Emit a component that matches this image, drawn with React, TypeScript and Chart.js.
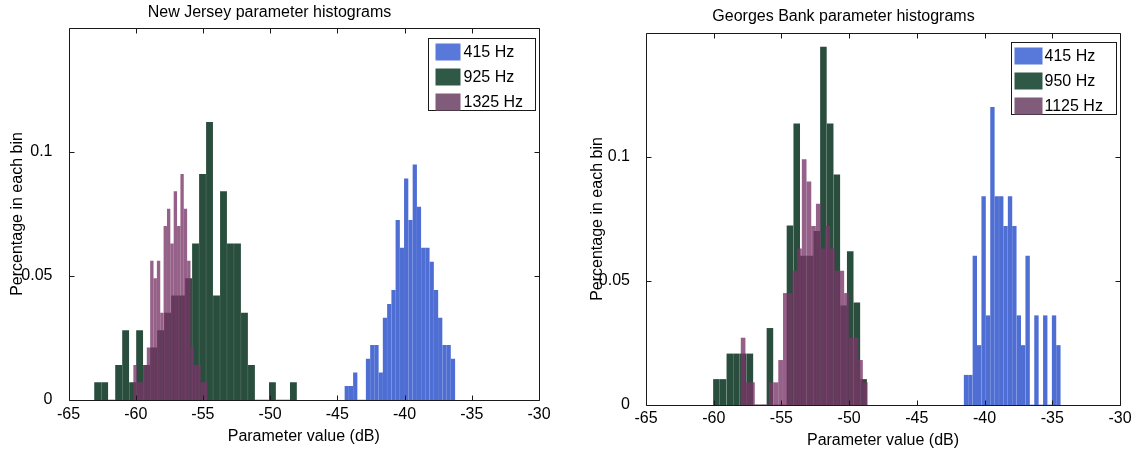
import React, { useEffect, useRef } from "react";
import { Chart, registerables } from "chart.js";

Chart.register(...registerables);

// ---------- shared axis data ----------
const X_TICKS = [-65, -60, -55, -50, -45, -40, -35, -30];
const Y_TICKS = [0, 0.05, 0.1];
const Y_TICK_LABELS = ["0", "0.05", "0.1"];
const X_MIN = -65;
const X_MAX = -30;
const Y_MAX = 0.15;

// ---------- New Jersey ----------
const NJ_TITLE = "New Jersey parameter histograms";
const NJ_LABELS = ["415 Hz", "925 Hz", "1325 Hz"];

const NJ_415_X = [-44.3, -43.98, -43.67, -43.35, -43.04, -42.72, -42.4, -42.09, -41.77, -41.46, -41.14, -40.82, -40.51, -40.19, -39.88, -39.56, -39.24, -38.93, -38.61, -38.3, -37.98, -37.66, -37.35, -37.03, -36.72, -36.4];
const NJ_415_Y = [0.0055, 0.0055, 0.011, 0, 0, 0.0165, 0.022, 0.022, 0.011, 0.033, 0.0386, 0.0442, 0.0724, 0.0613, 0.0892, 0.0724, 0.0948, 0.0778, 0.0613, 0.0613, 0.0556, 0.0442, 0.033, 0.022, 0.022, 0.0165];

const NJ_925_X = [-62.83, -62.31, -61.79, -61.27, -60.75, -60.23, -59.71, -59.19, -58.67, -58.15, -57.63, -57.11, -56.59, -56.07, -55.55, -55.03, -54.51, -53.99, -53.47, -52.95, -52.43, -51.91, -51.39, -50.87, -50.35, -49.83, -49.31, -48.79, -48.27];
const NJ_925_Y = [0.007, 0.007, 0, 0.014, 0.028, 0.007, 0.028, 0.014, 0.021, 0.028, 0.035, 0.042, 0.042, 0.049, 0.063, 0.091, 0.112, 0.042, 0.084, 0.063, 0.063, 0.035, 0.014, 0, 0, 0.007, 0, 0, 0.007];

const NJ_1325_X = [-60.05, -59.8, -59.55, -59.3, -59.05, -58.8, -58.55, -58.3, -58.05, -57.8, -57.55, -57.3, -57.05, -56.8, -56.55, -56.3, -56.05, -55.8, -55.55, -55.3, -55.05, -54.8];
const NJ_1325_Y = [0.014, 0.007, 0.007, 0.014, 0.021, 0.056, 0.049, 0.056, 0.035, 0.07, 0.077, 0.063, 0.084, 0.07, 0.091, 0.077, 0.056, 0.021, 0.014, 0.014, 0.007, 0.007];

// ---------- Georges Bank ----------
const GB_TITLE = "Georges Bank parameter histograms";
const GB_LABELS = ["415 Hz", "950 Hz", "1125 Hz"];

const GB_415_X = [-41.37, -41.05, -40.72, -40.4, -40.07, -39.75, -39.42, -39.1, -38.77, -38.45, -38.12, -37.8, -37.47, -37.15, -36.82, -36.5, -36.17, -35.85, -35.52, -35.2, -34.87, -34.55];
const GB_415_Y = [0.012, 0.012, 0.06, 0.024, 0.084, 0.036, 0.12, 0.084, 0.084, 0.072, 0.084, 0.072, 0.036, 0.024, 0.06, 0, 0.036, 0, 0.036, 0, 0.036, 0.024];

const GB_950_X = [-59.8, -59.31, -58.81, -58.32, -57.82, -57.33, -56.84, -56.34, -55.85, -55.35, -54.86, -54.37, -53.87, -53.38, -52.88, -52.39, -51.9, -51.4, -50.91, -50.41, -49.92, -49.43, -48.93];
const GB_950_Y = [0.0103, 0.0103, 0.0206, 0.0206, 0.0206, 0.0206, 0, 0, 0.0309, 0, 0, 0.0722, 0.1134, 0.06, 0.06, 0.07, 0.1443, 0.1134, 0.0928, 0.04, 0.0619, 0.0412, 0.0103];

const GB_1125_X = [-57.83, -57.48, -57.14, -56.79, -56.44, -56.1, -55.75, -55.4, -55.06, -54.71, -54.36, -54.01, -53.67, -53.32, -52.97, -52.63, -52.28, -51.93, -51.58, -51.24, -50.89, -50.54, -50.2, -49.85, -49.5, -49.16, -48.81];
const GB_1125_Y = [0.027, 0.009, 0.009, 0, 0, 0, 0.009, 0.009, 0.018, 0.045, 0.045, 0.054, 0.063, 0.099, 0.09, 0.072, 0.081, 0.063, 0.072, 0.063, 0.054, 0.054, 0.045, 0.027, 0.027, 0.018, 0.009];

// ---------- styles ----------
const FONT_FAMILY = '"Liberation Sans", Arial, Helvetica, sans-serif';
const BLUE = "rgb(78,110,212)";
const GREEN = "rgb(42,78,62)";
const MAGENTA = "rgba(120,52,104,0.78)";
const LEGEND_COLORS = ["rgb(88,120,218)", "rgb(48,88,70)", "rgb(128,92,122)"];

const toPoints = (xs: number[], ys: number[]) => xs.map((x, i) => ({ x, y: ys[i] }));

const matlabAxes = {
  id: "matlabAxes",
  afterDatasetsDraw(chart: any) {
    const { ctx, chartArea: a, scales } = chart;
    ctx.save();
    ctx.strokeStyle = "#1a1a1a";
    ctx.lineWidth = 1;
    const L = Math.round(a.left) + 0.5;
    const R = Math.round(a.right) + 0.5;
    const T = Math.round(a.top) + 0.5;
    const B = Math.round(a.bottom) + 0.5;
    ctx.beginPath();
    ctx.rect(L, T, R - L, B - T);
    const tl = 5;
    X_TICKS.forEach((v) => {
      const x = Math.round(scales.x.getPixelForValue(v)) + 0.5;
      ctx.moveTo(x, B);
      ctx.lineTo(x, B - tl);
      ctx.moveTo(x, T);
      ctx.lineTo(x, T + tl);
    });
    Y_TICKS.forEach((v) => {
      const y = Math.round(scales.y.getPixelForValue(v)) + 0.5;
      ctx.moveTo(L, y);
      ctx.lineTo(L + tl, y);
      ctx.moveTo(R, y);
      ctx.lineTo(R - tl, y);
    });
    ctx.stroke();
    ctx.restore();
  },
};

const boxLegend = {
  id: "boxLegend",
  afterDraw(chart: any, _args: any, opts: any) {
    const { ctx, chartArea: a } = chart;
    const x0 = Math.round(a.right - opts.right - opts.width) + 0.5;
    const y0 = Math.round(a.top + opts.top) + 0.5;
    ctx.save();
    ctx.fillStyle = "#fff";
    ctx.fillRect(x0, y0, opts.width, opts.height);
    ctx.strokeStyle = "#1a1a1a";
    ctx.lineWidth = 1;
    ctx.strokeRect(x0, y0, opts.width, opts.height);
    ctx.font = `16px ${FONT_FAMILY}`;
    ctx.textBaseline = "middle";
    ctx.textAlign = "left";
    chart.data.datasets.forEach((ds: any, i: number) => {
      const cy = y0 + opts.firstRow + i * opts.rowGap;
      ctx.fillStyle = opts.colors[i];
      ctx.fillRect(x0 + opts.swatchX, cy - opts.swatchH / 2, opts.swatchW, opts.swatchH);
      ctx.fillStyle = "#000";
      ctx.fillText(ds.label, x0 + opts.textX, cy + 1);
    });
    ctx.restore();
  },
};

type PanelCfg = {
  title: string;
  labels: string[];
  series: { xs: number[]; ys: number[] }[];
  thickness: number[];
  padRight: number;
  yWidth: number;
  xHeight: number;
  titlePad: { top: number; bottom: number };
  yTitlePad: number;
  xTitlePad: number;
  xTickPad: number;
  legend: any;
};

const PANELS: PanelCfg[] = [
  {
    title: NJ_TITLE,
    labels: NJ_LABELS,
    series: [
      { xs: NJ_415_X, ys: NJ_415_Y },
      { xs: NJ_925_X, ys: NJ_925_Y },
      { xs: NJ_1325_X, ys: NJ_1325_Y },
    ],
    thickness: [3.6, 6.2, 2.7],
    padRight: 28,
    yWidth: 68.5,
    xHeight: 53,
    titlePad: { top: 3.4, bottom: 5.4 },
    yTitlePad: 8.4,
    xTitlePad: 6.4,
    xTickPad: -3,
    legend: { right: 4, width: 107, top: 10, height: 72, firstRow: 13.5, rowGap: 25, swatchX: 7, swatchW: 25, swatchH: 17, textX: 35, colors: LEGEND_COLORS },
  },
  {
    title: GB_TITLE,
    labels: GB_LABELS,
    series: [
      { xs: GB_415_X, ys: GB_415_Y },
      { xs: GB_950_X, ys: GB_950_Y },
      { xs: GB_1125_X, ys: GB_1125_Y },
    ],
    thickness: [3.7, 5.9, 4.0],
    padRight: 15,
    yWidth: 79,
    xHeight: 48,
    titlePad: { top: 7.4, bottom: 6.4 },
    yTitlePad: 21.4,
    xTitlePad: 2.4,
    xTickPad: -4,
    legend: { right: 4, width: 105, top: 9, height: 72, firstRow: 13.5, rowGap: 25, swatchX: 3, swatchW: 28, swatchH: 17, textX: 33, colors: LEGEND_COLORS },
  },
];

const COLORS = [BLUE, GREEN, MAGENTA];
const ORDERS = [3, 2, 1];

function makeConfig(p: PanelCfg): any {
  const font = { family: FONT_FAMILY, size: 16 };
  return {
    type: "bar",
    data: {
      datasets: p.series.map((s, i) => ({
        label: p.labels[i],
        data: toPoints(s.xs, s.ys),
        backgroundColor: COLORS[i],
        borderWidth: 0,
        barThickness: p.thickness[i],
        grouped: false,
        order: ORDERS[i],
      })),
    },
    options: {
      responsive: false,
      animation: false,
      devicePixelRatio: 1,
      events: [],
      layout: { padding: { left: 0, right: p.padRight, top: 0, bottom: 0 } },
      plugins: {
        legend: { display: false },
        tooltip: { enabled: false },
        title: {
          display: true,
          text: p.title,
          color: "#000",
          font: { ...font, weight: "normal" },
          padding: p.titlePad,
        },
        boxLegend: p.legend,
      },
      scales: {
        x: {
          type: "linear",
          min: X_MIN,
          max: X_MAX,
          offset: false,
          grid: { display: false, offset: false },
          border: { display: false },
          afterBuildTicks: (s: any) => {
            s.ticks = X_TICKS.map((value) => ({ value }));
          },
          afterFit: (s: any) => {
            s.height = p.xHeight;
          },
          ticks: {
            callback: (v: any) => String(v),
            color: "#000",
            font,
            padding: p.xTickPad,
            maxRotation: 0,
            autoSkip: false,
          },
          title: {
            display: true,
            text: "Parameter value (dB)",
            color: "#000",
            font,
            padding: { top: 0, bottom: p.xTitlePad },
          },
        },
        y: {
          type: "linear",
          min: 0,
          max: Y_MAX,
          grid: { display: false },
          border: { display: false },
          afterBuildTicks: (s: any) => {
            s.ticks = Y_TICKS.map((value) => ({ value }));
          },
          afterFit: (s: any) => {
            s.width = p.yWidth;
          },
          ticks: {
            callback: (_v: any, i: number) => Y_TICK_LABELS[i],
            color: "#000",
            font,
            padding: 8,
            autoSkip: false,
          },
          title: {
            display: true,
            text: "Percentage in each bin",
            color: "#000",
            font,
            padding: { top: p.yTitlePad, bottom: 0 },
          },
        },
      },
    },
    plugins: [matlabAxes, boxLegend],
  };
}

function HistPanel({ cfg, left, width }: { cfg: PanelCfg; left: number; width: number }) {
  const ref = useRef<HTMLCanvasElement>(null);
  useEffect(() => {
    const chart = new Chart(ref.current as HTMLCanvasElement, makeConfig(cfg));
    return () => chart.destroy();
  }, [cfg]);
  return (
    <canvas
      ref={ref}
      width={width}
      height={453}
      style={{ position: "absolute", left, top: 0, width, height: 453, display: "block" }}
    />
  );
}

export default function App() {
  return (
    <div style={{ position: "absolute", left: 0, top: 0, width: 1135, height: 453, background: "#fff", overflow: "hidden" }}>
      <HistPanel cfg={PANELS[0]} left={0} width={567} />
      <HistPanel cfg={PANELS[1]} left={567} width={568} />
    </div>
  );
}
